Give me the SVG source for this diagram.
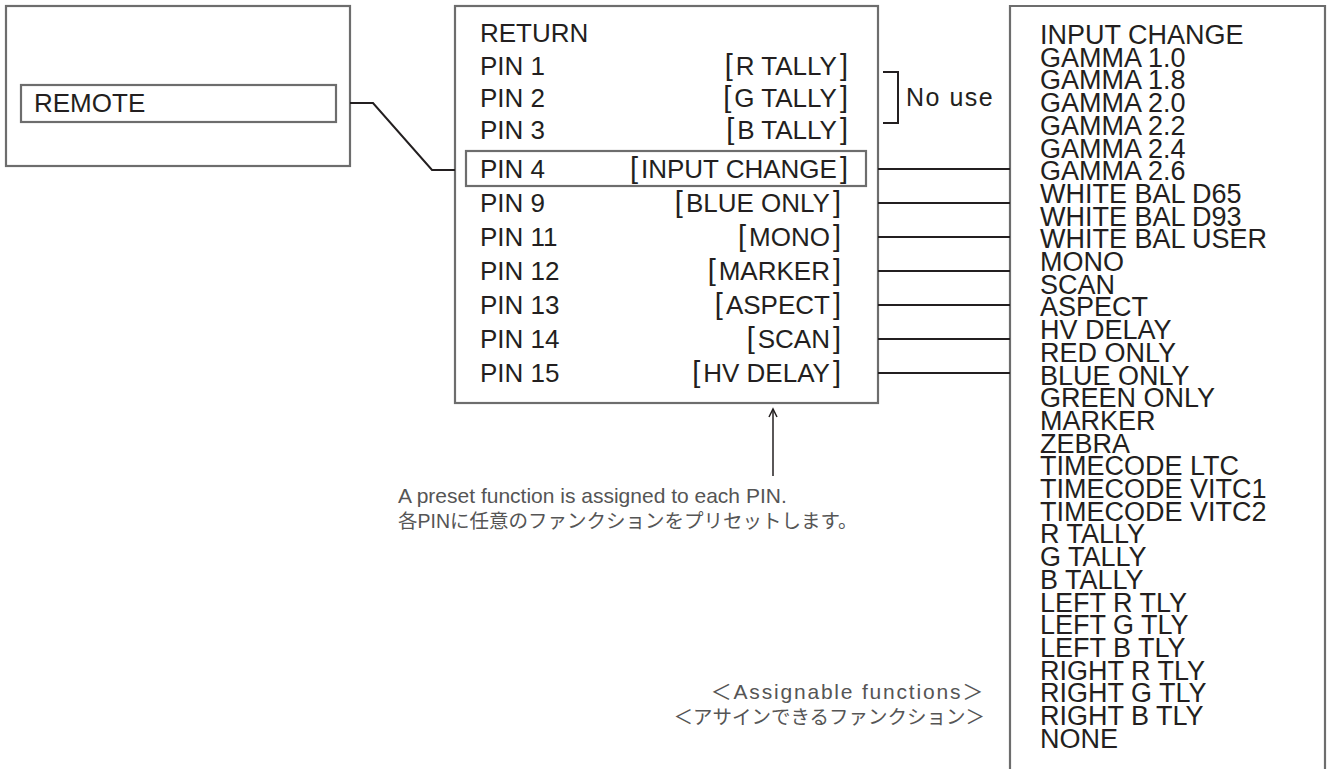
<svg xmlns="http://www.w3.org/2000/svg" width="1330" height="769" viewBox="0 0 1330 769">
<style>
.box{fill:#fff;stroke:#6d6d6d;stroke-width:2.2}
.frame{fill:none;stroke:#6d6d6d;stroke-width:2.2}
.con{fill:none;stroke:#231f20;stroke-width:2}
.lbl{font-family:"Liberation Sans",Arial,sans-serif;font-size:26px;fill:#231f20}
.end{text-anchor:end}
.bk{font-size:29px;font-weight:normal}
.fn{font-family:"Liberation Sans",Arial,sans-serif;font-size:27px;fill:#231f20}
.note{font-family:"Liberation Sans","Noto Sans CJK JP",sans-serif;font-size:21px;fill:#555}
.jp{font-family:"Liberation Sans","Noto Sans CJK JP",sans-serif;font-size:19.5px;fill:#555}
</style>
<rect width="1330" height="769" fill="#fff"/>

<g id="remote-node">
  <rect class="box" x="6" y="6" width="344" height="160"/>
  <rect class="box" x="21" y="85" width="315" height="37"/>
  <text class="lbl" x="34" y="112">REMOTE</text>
</g>

<g id="pin-menu">
  <rect class="box" x="455" y="6" width="423" height="397"/>
  <rect class="box" x="466" y="151" width="400" height="35"/>
  <text class="lbl" x="480" y="42">RETURN</text>
  <text class="lbl" x="480" y="75">PIN 1</text>
  <text class="lbl end" x="848" y="75"><tspan class="bk">[</tspan><tspan dx="3">R TALLY</tspan><tspan class="bk" dx="3">]</tspan></text>
  <text class="lbl" x="480" y="107">PIN 2</text>
  <text class="lbl end" x="848" y="107"><tspan class="bk">[</tspan><tspan dx="3">G TALLY</tspan><tspan class="bk" dx="3">]</tspan></text>
  <text class="lbl" x="480" y="139">PIN 3</text>
  <text class="lbl end" x="848" y="139"><tspan class="bk">[</tspan><tspan dx="3">B TALLY</tspan><tspan class="bk" dx="3">]</tspan></text>
  <text class="lbl" x="480" y="178">PIN 4</text>
  <text class="lbl end" x="848" y="178"><tspan class="bk">[</tspan><tspan dx="3">INPUT CHANGE</tspan><tspan class="bk" dx="3">]</tspan></text>
  <text class="lbl" x="480" y="212">PIN 9</text>
  <text class="lbl end" x="841" y="212"><tspan class="bk">[</tspan><tspan dx="3">BLUE ONLY</tspan><tspan class="bk" dx="3">]</tspan></text>
  <text class="lbl" x="480" y="246">PIN 11</text>
  <text class="lbl end" x="841" y="246"><tspan class="bk">[</tspan><tspan dx="3">MONO</tspan><tspan class="bk" dx="3">]</tspan></text>
  <text class="lbl" x="480" y="280">PIN 12</text>
  <text class="lbl end" x="841" y="280"><tspan class="bk">[</tspan><tspan dx="3">MARKER</tspan><tspan class="bk" dx="3">]</tspan></text>
  <text class="lbl" x="480" y="314">PIN 13</text>
  <text class="lbl end" x="841" y="314"><tspan class="bk">[</tspan><tspan dx="3">ASPECT</tspan><tspan class="bk" dx="3">]</tspan></text>
  <text class="lbl" x="480" y="348">PIN 14</text>
  <text class="lbl end" x="841" y="348"><tspan class="bk">[</tspan><tspan dx="3">SCAN</tspan><tspan class="bk" dx="3">]</tspan></text>
  <text class="lbl" x="480" y="382">PIN 15</text>
  <text class="lbl end" x="841" y="382"><tspan class="bk">[</tspan><tspan dx="3">HV DELAY</tspan><tspan class="bk" dx="3">]</tspan></text>
</g>

<g id="no-use">
  <path class="con" d="M883,72 H898 V123 H883"/>
  <text class="lbl" x="906" y="106" style="font-size:25px;letter-spacing:1.5px">No use</text>
</g>

<g id="function-list">
  <path class="frame" d="M1010,780 V6 H1325 V780"/>
  <text class="fn" x="1040" y="44">INPUT CHANGE</text>
  <text class="fn" x="1040" y="66.7">GAMMA 1.0</text>
  <text class="fn" x="1040" y="89.4">GAMMA 1.8</text>
  <text class="fn" x="1040" y="112.1">GAMMA 2.0</text>
  <text class="fn" x="1040" y="134.8">GAMMA 2.2</text>
  <text class="fn" x="1040" y="157.5">GAMMA 2.4</text>
  <text class="fn" x="1040" y="180.2">GAMMA 2.6</text>
  <text class="fn" x="1040" y="202.9">WHITE BAL D65</text>
  <text class="fn" x="1040" y="225.6">WHITE BAL D93</text>
  <text class="fn" x="1040" y="248.3">WHITE BAL USER</text>
  <text class="fn" x="1040" y="271">MONO</text>
  <text class="fn" x="1040" y="293.7">SCAN</text>
  <text class="fn" x="1040" y="316.4">ASPECT</text>
  <text class="fn" x="1040" y="339.1">HV DELAY</text>
  <text class="fn" x="1040" y="361.8">RED ONLY</text>
  <text class="fn" x="1040" y="384.5">BLUE ONLY</text>
  <text class="fn" x="1040" y="407.2">GREEN ONLY</text>
  <text class="fn" x="1040" y="429.9">MARKER</text>
  <text class="fn" x="1040" y="452.6">ZEBRA</text>
  <text class="fn" x="1040" y="475.3">TIMECODE LTC</text>
  <text class="fn" x="1040" y="498">TIMECODE VITC1</text>
  <text class="fn" x="1040" y="520.7">TIMECODE VITC2</text>
  <text class="fn" x="1040" y="543.4">R TALLY</text>
  <text class="fn" x="1040" y="566.1">G TALLY</text>
  <text class="fn" x="1040" y="588.8">B TALLY</text>
  <text class="fn" x="1040" y="611.5">LEFT R TLY</text>
  <text class="fn" x="1040" y="634.2">LEFT G TLY</text>
  <text class="fn" x="1040" y="656.9">LEFT B TLY</text>
  <text class="fn" x="1040" y="679.6">RIGHT R TLY</text>
  <text class="fn" x="1040" y="702.3">RIGHT G TLY</text>
  <text class="fn" x="1040" y="725">RIGHT B TLY</text>
  <text class="fn" x="1040" y="747.7">NONE</text>
</g>

<g id="preset-note">
  <text class="note" x="398" y="503">A preset function is assigned to each PIN.</text>
  <text class="jp" x="398" y="528">各PINに任意のファンクションをプリセットします。</text>
</g>

<g id="assignable-note">
  <text class="note end" x="985" y="699" style="letter-spacing:1.8px">＜Assignable functions＞</text>
  <text class="jp end" x="985" y="724">＜アサインできるファンクション＞</text>
</g>

<g id="connectors">
  <path class="con" d="M350,103 H373 L432,170 H455"/>
  <path class="con" d="M878,169 H1010 M878,203 H1010 M878,237 H1010 M878,271 H1010 M878,305 H1010 M878,339 H1010 M878,373 H1010"/>
  <path class="con" d="M773,476 V409" style="stroke-width:1.5"/>
  <path class="con" d="M769,417 L773,409 L777,417" style="stroke-width:1.5"/>
</g>
</svg>
